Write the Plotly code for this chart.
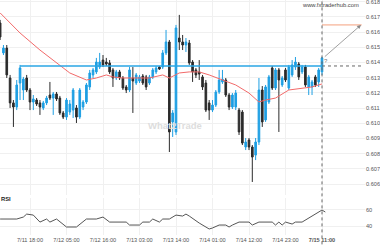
import plotly.graph_objects as go

# ---------------- data ----------------
candle_idx = list(range(-1, 97))

open_ = [0.61660, 0.61463, 0.61495, 0.61298, 0.61134, 0.61107, 0.61265, 0.61219, 0.61298, 0.61219,
         0.61140, 0.61153, 0.61134, 0.61101, 0.61134, 0.61186, 0.61166, 0.61193, 0.61166, 0.61068,
         0.61041, 0.61074, 0.61087, 0.61101, 0.61041, 0.61107, 0.61140, 0.61239, 0.61318, 0.61338,
         0.61370, 0.61416, 0.61403, 0.61397, 0.61351, 0.61298, 0.61338, 0.61298, 0.61239, 0.61219,
         0.61298, 0.61265, 0.61278, 0.61311, 0.61305, 0.61265, 0.61305, 0.61338, 0.61370, 0.61370,
         0.61463, 0.61535, 0.61009, 0.60943, 0.61561, 0.61535, 0.61515, 0.61528, 0.61403, 0.61351,
         0.61338, 0.61305, 0.61265, 0.61134, 0.61087, 0.61120, 0.61206, 0.61272, 0.61285, 0.61186,
         0.61107, 0.61107, 0.61087, 0.61074, 0.60844, 0.60890, 0.60844, 0.60791, 0.60877, 0.61219,
         0.61022, 0.61140, 0.61364, 0.61232, 0.61351, 0.61252, 0.61351, 0.61232, 0.61318, 0.61370,
         0.61390, 0.61338, 0.61370, 0.61239, 0.61239, 0.61305, 0.61272, 0.61338]

high = [0.61680, 0.61515, 0.61515, 0.61318, 0.61153, 0.61285, 0.61384, 0.61305, 0.61318, 0.61232,
        0.61186, 0.61166, 0.61153, 0.61147, 0.61180, 0.61272, 0.61206, 0.61206, 0.61180, 0.61081,
        0.61166, 0.61153, 0.61232, 0.61120, 0.61232, 0.61153, 0.61265, 0.61351, 0.61364, 0.61430,
        0.61463, 0.61449, 0.61430, 0.61416, 0.61364, 0.61351, 0.61351, 0.61311, 0.61252, 0.61370,
        0.61370, 0.61331, 0.61318, 0.61324, 0.61318, 0.61318, 0.61364, 0.61377, 0.61377, 0.61482,
        0.61614, 0.61548, 0.61087, 0.61647, 0.61713, 0.61581, 0.61561, 0.61548, 0.61416, 0.61364,
        0.61416, 0.61318, 0.61285, 0.61153, 0.61153, 0.61219, 0.61351, 0.61351, 0.61298, 0.61199,
        0.61199, 0.61219, 0.61101, 0.61087, 0.60903, 0.60903, 0.60857, 0.60903, 0.61298, 0.61245,
        0.61252, 0.61318, 0.61377, 0.61364, 0.61364, 0.61311, 0.61364, 0.61384, 0.61416, 0.61436,
        0.61403, 0.61384, 0.61384, 0.61318, 0.61285, 0.61318, 0.61364, 0.61436]

low = [0.61548, 0.61449, 0.61298, 0.61101, 0.60976, 0.61087, 0.61153, 0.61153, 0.61206, 0.61087,
       0.61087, 0.61114, 0.61055, 0.61087, 0.61120, 0.61153, 0.61055, 0.61147, 0.61055, 0.61028,
       0.61022, 0.61055, 0.61035, 0.61002, 0.61028, 0.61087, 0.61127, 0.61219, 0.61298, 0.61324,
       0.61357, 0.61370, 0.61377, 0.61324, 0.61239, 0.61285, 0.61285, 0.61219, 0.61199, 0.61206,
       0.61068, 0.61252, 0.61265, 0.61252, 0.61219, 0.61252, 0.61291, 0.61324, 0.61351, 0.61357,
       0.61449, 0.60811, 0.60910, 0.60923, 0.61482, 0.61482, 0.61469, 0.61384, 0.61272, 0.61298,
       0.61285, 0.61219, 0.61074, 0.61022, 0.61074, 0.61107, 0.61193, 0.61259, 0.61173, 0.61087,
       0.61094, 0.61087, 0.60923, 0.60857, 0.60824, 0.60824, 0.60614, 0.60758, 0.60857, 0.60976,
       0.61009, 0.61127, 0.61219, 0.61219, 0.60943, 0.61239, 0.61272, 0.61219, 0.61305, 0.61351,
       0.61285, 0.61324, 0.61239, 0.61186, 0.61186, 0.61239, 0.61239, 0.61318]

close = [0.61568, 0.61495, 0.61318, 0.61134, 0.61107, 0.61252, 0.61364, 0.61291, 0.61219, 0.61140,
         0.61160, 0.61127, 0.61107, 0.61134, 0.61166, 0.61166, 0.61193, 0.61160, 0.61068, 0.61041,
         0.61153, 0.61127, 0.61219, 0.61041, 0.61219, 0.61140, 0.61252, 0.61331, 0.61351, 0.61403,
         0.61403, 0.61384, 0.61390, 0.61338, 0.61298, 0.61338, 0.61298, 0.61232, 0.61219, 0.61351,
         0.61278, 0.61318, 0.61305, 0.61265, 0.61239, 0.61305, 0.61351, 0.61364, 0.61357, 0.61463,
         0.61535, 0.60943, 0.61068, 0.61627, 0.61535, 0.61515, 0.61535, 0.61397, 0.61338, 0.61318,
         0.61324, 0.61239, 0.61087, 0.61087, 0.61120, 0.61206, 0.61285, 0.61291, 0.61186, 0.61107,
         0.61186, 0.61199, 0.60943, 0.60870, 0.60877, 0.60844, 0.60778, 0.60877, 0.61219, 0.61009,
         0.61239, 0.61305, 0.61232, 0.61351, 0.61285, 0.61298, 0.61285, 0.61370, 0.61384, 0.61403,
         0.61305, 0.61370, 0.61252, 0.61305, 0.61272, 0.61252, 0.61351, 0.61430]

ma_idx = [-1, 5, 11, 17, 20, 25, 28, 31, 33, 36, 40, 44, 48, 50, 53, 56, 59, 62, 66, 70,
          74, 77, 79, 82, 86, 90, 93, 96]
ma_val = [0.61726, 0.61594, 0.61482, 0.61384, 0.61331, 0.61285, 0.61298, 0.61318, 0.61305, 0.61298,
          0.61298, 0.61298, 0.61318, 0.61298, 0.61331, 0.61338, 0.61338, 0.61318, 0.61285, 0.61252,
          0.61199, 0.61140, 0.61153, 0.61166, 0.61219, 0.61232, 0.61239, 0.61259]

rsi_idx = [-1, 4, 6, 7, 9, 11, 13, 14, 16, 19, 22, 25, 28, 30, 32, 37, 38, 41, 42, 44,
           45, 47, 48, 50, 52, 54, 55, 56, 59, 62, 63, 65, 67, 68, 69, 71, 74, 75, 77, 81,
           82, 83, 84, 85, 87, 88, 90, 96, 97]
rsi_val = [48.5, 48.5, 50.9, 54.5, 53.3, 44.8, 48.5, 44.8, 48.5, 38.8, 38.8, 48.5, 48.5, 50.9, 44.8,
           44.8, 41.2, 41.2, 44.8, 44.8, 48.5, 44.8, 48.5, 48.5, 53.3, 52.1, 54.5, 52.1, 43.6, 36.4,
           37.6, 41.2, 41.2, 38.8, 41.2, 44.8, 44.8, 41.2, 44.8, 44.8, 41.2, 44.8, 41.2, 44.8, 42.4,
           44.8, 44.8, 59.4, 57.0]

level_price = 0.61377      # blue breakout level
target_price = 0.61647     # orange target
price_ticks = [0.606, 0.607, 0.608, 0.609, 0.610, 0.611, 0.612, 0.613, 0.614, 0.615, 0.616, 0.617, 0.618]
rsi_ticks = [40, 60]
tick_idx = [8, 19, 30, 41, 52, 63, 74, 85, 96]
tick_labels = ["7/11 18:00", "7/12 05:00", "7/12 16:00", "7/13 03:00", "7/13 14:00",
               "7/14 01:00", "7/14 12:00", "7/14 23:00", "<b>7/15 11:00</b>"]

BLUE = "#1e9fe3"
DARK = "#2b2b2b"
GRID = "#f0f0f0"
FONT = "Liberation Sans"

fig = go.Figure()
fig.add_trace(go.Candlestick(
    x=candle_idx, open=open_, high=high, low=low, close=close,
    increasing=dict(line=dict(color=BLUE, width=1), fillcolor=BLUE),
    decreasing=dict(line=dict(color=DARK, width=1), fillcolor=DARK),
    whiskerwidth=0, xaxis="x", yaxis="y", showlegend=False, hoverinfo="skip"))
fig.add_trace(go.Scatter(x=ma_idx, y=ma_val, mode="lines",
                         line=dict(color="#f26a6a", width=1), xaxis="x", yaxis="y",
                         showlegend=False, hoverinfo="skip"))
fig.add_trace(go.Scatter(x=rsi_idx, y=rsi_val, mode="lines",
                         line=dict(color="#555555", width=1), xaxis="x", yaxis="y2",
                         showlegend=False, hoverinfo="skip"))

last = candle_idx[-1]
xmax = 108.96

# blue level line
fig.add_shape(type="line", xref="x", yref="y", x0=5, x1=last, y0=level_price, y1=level_price,
              line=dict(color="#2aa6e4", width=1.5))
# dotted continuation of level
fig.add_shape(type="line", xref="x", yref="y", x0=last, x1=xmax - 0.5, y0=level_price, y1=level_price,
              line=dict(color="#666666", width=1, dash="dot"))
# orange target line
fig.add_shape(type="line", xref="x", yref="y", x0=last, x1=xmax - 1.0, y0=target_price, y1=target_price,
              line=dict(color="#f4a07e", width=1))
# vertical current-time line
fig.add_shape(type="line", xref="x", yref="paper", x0=last, x1=last, y0=-0.04, y1=1,
              line=dict(color="#666666", width=1, dash="dot"))

# arrow towards target
fig.add_annotation(x=xmax - 1.2, y=target_price, ax=last + 0.4, ay=close[-1],
                   xref="x", yref="y", axref="x", ayref="y", text="", showarrow=True,
                   arrowhead=2, arrowsize=1, arrowwidth=0.8, arrowcolor="#888888")
fig.add_annotation(x=last + 1.1, y=close[-1] - 0.0002, xref="x", yref="y", text="?",
                   showarrow=False, font=dict(family=FONT, size=6, color="#777777"))

# texts
fig.add_annotation(x=361/365, y=1 - 5/235, xref="paper", yref="paper", xanchor="right", yanchor="middle",
                   text="www.fxtraderhub.com", showarrow=False,
                   font=dict(family=FONT, size=5.8, color="#444444"))
fig.add_annotation(x=175/365, y=(235 - 125) / 235, xref="paper", yref="paper",
                   text="<b>What2Trade</b>", showarrow=False,
                   font=dict(family=FONT, size=9.5, color="#dddddd"))
fig.add_annotation(x=-1/365, y=(235 - 199) / 235, xref="paper", yref="paper", xanchor="left",
                   yanchor="middle", text="<b>RSI</b>", showarrow=False,
                   font=dict(family=FONT, size=5.8, color="#222222"))

fig.update_layout(
    width=380, height=250,
    margin=dict(l=0, r=15, t=0, b=15),
    paper_bgcolor="white", plot_bgcolor="white",
    showlegend=False,
    xaxis=dict(anchor="y2", range=[-1.04, xmax], tickvals=tick_idx, ticktext=tick_labels,
               showgrid=True, gridcolor=GRID, gridwidth=1, zeroline=False, showline=False,
               ticks="", tickfont=dict(family=FONT, size=5.6, color="#555555"),
               rangeslider=dict(visible=False), fixedrange=True, ticklabeloverflow="allow"),
    yaxis=dict(domain=[0.170, 1], range=[0.60528, 0.61811], side="right",
               tickvals=price_ticks, ticktext=[f"{v:.3f}" for v in price_ticks],
               showgrid=True, gridcolor=GRID, zeroline=False, showline=False, ticks="",
               ticklabeloverflow="allow",
               tickfont=dict(family=FONT, size=5.6, color="#555555")),
    yaxis2=dict(domain=[0, 0.157], range=[29.1, 73.9], side="right",
                tickvals=rsi_ticks, ticktext=[str(v) for v in rsi_ticks],
                showgrid=True, gridcolor=GRID, zeroline=False, showline=False, ticks="",
                tickfont=dict(family=FONT, size=5.6, color="#555555")),
)

fig.write_html("out.html")
